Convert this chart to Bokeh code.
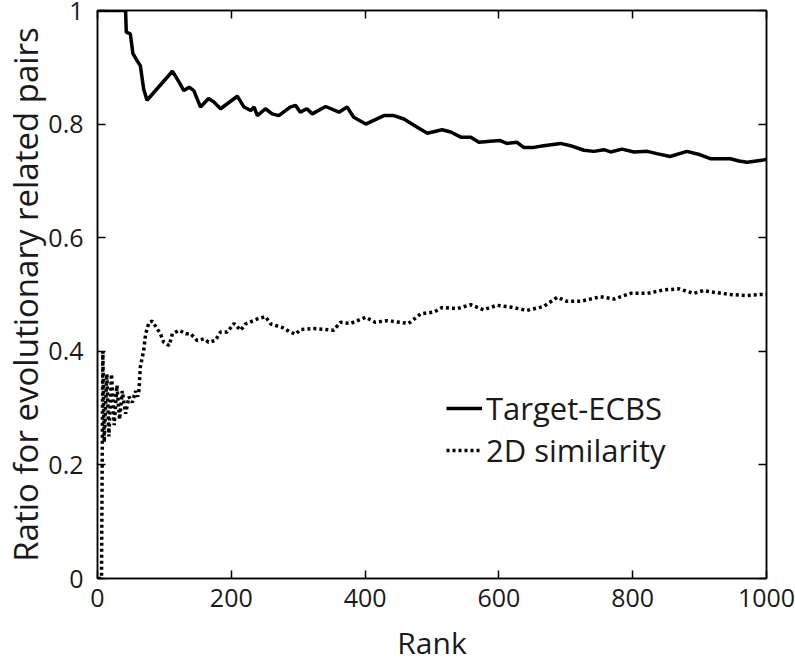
from bokeh.plotting import figure
from bokeh.models import LinearAxis, Range1d, FixedTicker, Legend, LegendItem
from bokeh.embed import file_html
from bokeh.resources import INLINE

# ---- data ----
ecbs_rank = [1, 42, 43, 49, 53, 59, 64, 69, 74, 112, 122, 129, 137, 144, 154, 166, 174, 184,
             209, 219, 229, 234, 239, 251, 261, 271, 288, 296, 303, 313, 321, 341, 361, 373,
             383, 401, 428, 443, 458, 473, 493, 515, 528, 543, 558, 570, 587, 602, 612, 627,
             637, 652, 667, 692, 707, 727, 742, 757, 767, 784, 802, 822, 836, 856, 881, 901,
             916, 946, 959, 971, 996, 1000]
ecbs_val = [1.0, 1.0, 0.962, 0.959, 0.924, 0.912, 0.903, 0.862, 0.842, 0.893, 0.874, 0.859,
            0.865, 0.859, 0.830, 0.845, 0.839, 0.827, 0.849, 0.830, 0.824, 0.830, 0.815, 0.827,
            0.818, 0.815, 0.830, 0.833, 0.821, 0.827, 0.818, 0.831, 0.821, 0.830, 0.812, 0.800,
            0.815, 0.815, 0.809, 0.798, 0.784, 0.790, 0.786, 0.777, 0.777, 0.768, 0.770, 0.771,
            0.766, 0.768, 0.759, 0.759, 0.762, 0.766, 0.762, 0.754, 0.752, 0.755, 0.751, 0.756,
            0.751, 0.752, 0.748, 0.743, 0.752, 0.746, 0.739, 0.739, 0.735, 0.733, 0.737, 0.738]

sim_rank = [1, 6, 8, 10, 14, 17, 21, 25, 29, 33, 37, 42, 47, 52, 57, 60, 62, 64, 69, 72, 77,
            82, 89, 94, 99, 107, 112, 122, 132, 139, 149, 159, 166, 176, 184, 194, 204, 214,
            221, 239, 251, 259, 276, 288, 296, 303, 323, 353, 363, 378, 401, 415, 433, 465,
            483, 503, 515, 537, 558, 577, 597, 617, 642, 667, 687, 702, 722, 752, 772, 797,
            822, 846, 869, 891, 906, 921, 946, 971, 991, 1000]
sim_val = [0.0, 0.0, 0.40, 0.24, 0.36, 0.25, 0.36, 0.27, 0.34, 0.28, 0.33, 0.29, 0.32, 0.31,
           0.33, 0.32, 0.331, 0.372, 0.401, 0.431, 0.451, 0.453, 0.440, 0.431, 0.416, 0.410,
           0.431, 0.437, 0.431, 0.431, 0.419, 0.422, 0.416, 0.419, 0.434, 0.434, 0.449, 0.437,
           0.448, 0.457, 0.461, 0.448, 0.442, 0.434, 0.430, 0.438, 0.440, 0.437, 0.451, 0.449,
           0.460, 0.451, 0.454, 0.449, 0.466, 0.469, 0.477, 0.475, 0.482, 0.473, 0.481, 0.478,
           0.472, 0.479, 0.495, 0.488, 0.488, 0.496, 0.492, 0.502, 0.502, 0.508, 0.510, 0.502,
           0.507, 0.504, 0.500, 0.498, 0.500, 0.500]

x_ticks = [0, 200, 400, 600, 800, 1000]
y_ticks = [0, 0.2, 0.4, 0.6, 0.8, 1.0]
y_labels = {0: "0", 0.2: "0.2", 0.4: "0.4", 0.6: "0.6", 0.8: "0.8", 1.0: "1"}

FONT = "Open Sans"
TXT = "#1a1a1a"

p = figure(frame_width=669, frame_height=568, output_backend="svg", toolbar_location=None,
           x_range=Range1d(0, 1000), y_range=Range1d(0, 1),
           min_border_left=97, min_border_right=29, min_border_top=10, min_border_bottom=84)
p.background_fill_color = "white"
p.border_fill_color = "white"
p.outline_line_color = "black"
p.outline_line_width = 1.5
p.xgrid.visible = False
p.ygrid.visible = False

r1 = p.line(ecbs_rank, ecbs_val, line_color="black", line_width=3.5)
r2 = p.line(sim_rank, sim_val, line_color="black", line_width=3.5, line_dash="3 3")

def style(ax):
    ax.axis_line_color = "black"
    ax.axis_line_width = 1.5
    ax.major_tick_in = 8
    ax.major_tick_out = 0
    ax.minor_tick_in = 0
    ax.minor_tick_out = 0
    ax.major_tick_line_color = "black"
    ax.major_tick_line_width = 1.5
    ax.major_label_text_font = FONT
    ax.major_label_text_font_size = "25px"
    ax.major_label_text_color = TXT
    ax.axis_label_text_font = FONT
    ax.axis_label_text_font_style = "normal"
    ax.axis_label_text_color = TXT

xa = p.xaxis[0]
xa.ticker = FixedTicker(ticks=x_ticks)
xa.axis_label = "Rank"
xa.major_label_standoff = 10
xa.axis_label_standoff = 12
style(xa)
xa.axis_label_text_font_size = "30px"

ya = p.yaxis[0]
ya.ticker = FixedTicker(ticks=y_ticks)
ya.major_label_overrides = y_labels
ya.axis_label = "Ratio for evolutionary related pairs"
ya.major_label_standoff = 14
ya.axis_label_standoff = -3
style(ya)
ya.axis_label_text_font_size = "33px"

top = LinearAxis(ticker=FixedTicker(ticks=x_ticks), major_label_standoff=0,
                 major_label_overrides={t: "" for t in x_ticks})
style(top)
p.add_layout(top, "above")
right = LinearAxis(ticker=FixedTicker(ticks=y_ticks), major_label_standoff=0,
                   major_label_overrides={t: "" for t in y_ticks})
style(right)
p.add_layout(right, "right")

legend = Legend(items=[LegendItem(label="Target-ECBS", renderers=[r1]),
                       LegendItem(label="2D similarity", renderers=[r2])],
                location=(349, 107))
legend.border_line_color = None
legend.background_fill_alpha = 0
legend.label_text_font = FONT
legend.label_text_font_size = "31px"
legend.label_text_color = TXT
legend.glyph_width = 36
legend.glyph_height = 36
legend.label_standoff = 4
legend.spacing = -1
legend.padding = 4
p.add_layout(legend, "center")

open("out.html", "w").write(file_html(p, INLINE))
